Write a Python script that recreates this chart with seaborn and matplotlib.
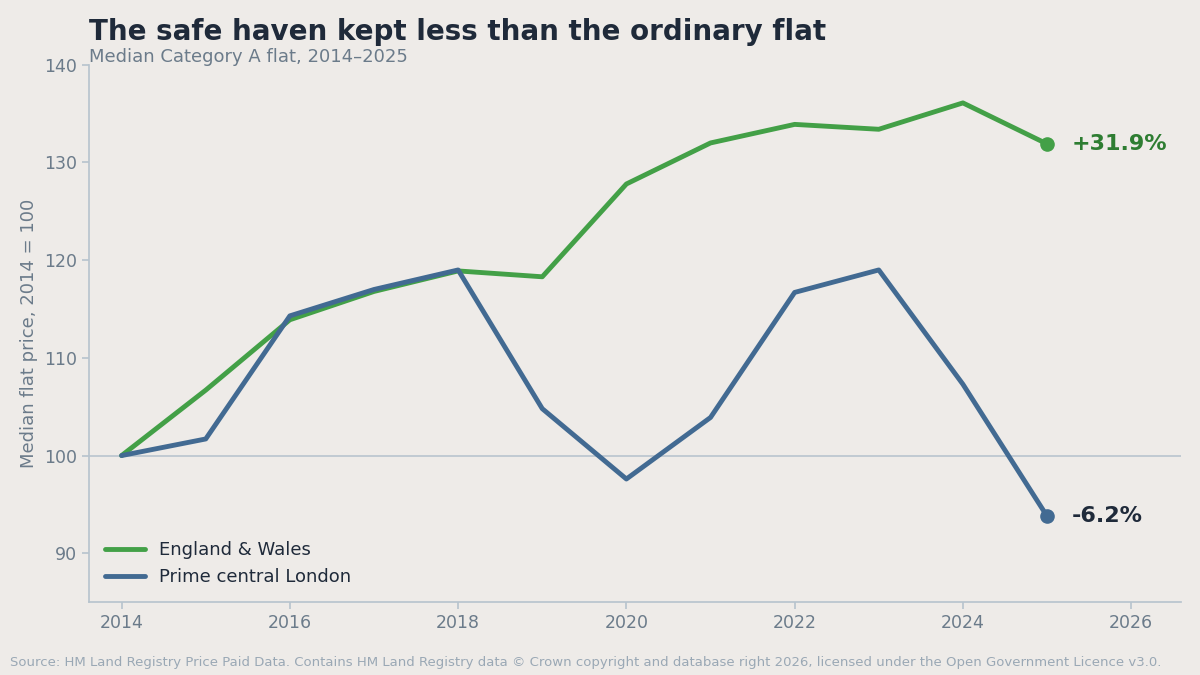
import matplotlib
matplotlib.use("Agg")
import matplotlib.pyplot as plt
import seaborn as sns
import pandas as pd

years = list(range(2014, 2026))
england_wales = [100, 106.7, 113.9, 116.8, 118.9, 118.3, 127.8, 132.0, 133.9, 133.4, 136.1, 131.9]
prime_london = [100, 101.7, 114.3, 117.0, 119.0, 104.8, 97.6, 103.9, 116.7, 119.0, 107.3, 93.8]
series_names = ["England & Wales", "Prime central London"]
colors = ["#43A047", "#426A92"]
end_labels = ["+31.9%", "-6.2%"]
label_colors = ["#2E7D32", "#1F2A3A"]

df = pd.concat([
    pd.DataFrame({"year": years, "value": england_wales, "series": series_names[0]}),
    pd.DataFrame({"year": years, "value": prime_london, "series": series_names[1]}),
])

bg = "#EEEBE8"
sns.set_theme(style="white")
plt.rcParams["font.family"] = ["DejaVu Sans"]

fig = plt.figure(figsize=(12, 6.75), dpi=100, facecolor=bg)
ax = fig.add_axes([0.074, 0.108, 0.91, 0.796])
ax.set_facecolor(bg)

sns.lineplot(data=df, x="year", y="value", hue="series", palette=colors,
             linewidth=3.5, ax=ax)
ax.axhline(100, color="#B8C4CE", linewidth=1.2, zorder=0)

for vals, c, lab, lc in zip([england_wales, prime_london], colors, end_labels, label_colors):
    ax.scatter([years[-1]], [vals[-1]], color=c, s=90, zorder=5)
    ax.annotate(lab, (years[-1], vals[-1]), xytext=(18, 0), textcoords="offset points",
                va="center", fontsize=16, fontweight="bold", color=lc)

ax.set_xlim(2013.61, 2026.59)
ax.set_ylim(85, 140)
ax.set_xticks(range(2014, 2027, 2))
ax.set_yticks(range(90, 141, 10))
ax.tick_params(colors="#6B7B8A", labelsize=12.5, left=True, bottom=True, length=5, color="#B8C4CE")
for s in ["top", "right"]:
    ax.spines[s].set_visible(False)
for s in ["left", "bottom"]:
    ax.spines[s].set_color("#B8C4CE")
ax.set_xlabel("")
ax.set_ylabel("Median flat price, 2014 = 100", fontsize=13, color="#6B7B8A")

leg = ax.legend(loc="lower left", frameon=False, fontsize=13, handlelength=2.2)
for t in leg.get_texts():
    t.set_color("#1F2A3A")

fig.text(0.074, 0.952, "The safe haven kept less than the ordinary flat", fontsize=20,
         fontweight="bold", color="#1F2A3A", va="center")
fig.text(0.074, 0.916, "Median Category A flat, 2014\u20132025", fontsize=13,
         color="#6B7B8A", va="center")
fig.text(0.008, 0.018, "Source: HM Land Registry Price Paid Data. Contains HM Land Registry data \u00a9 Crown copyright and database right 2026, licensed under the Open Government Licence v3.0.",
         fontsize=9.5, color="#9AA8B5", va="center")

fig.savefig("out.png", dpi=100, facecolor=bg)
